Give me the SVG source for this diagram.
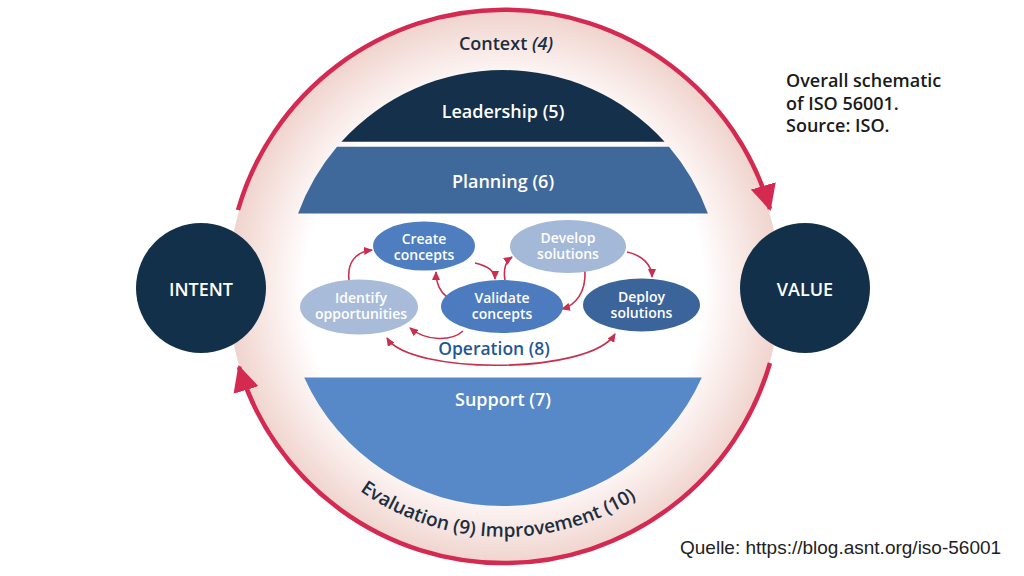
<svg xmlns="http://www.w3.org/2000/svg" width="1024" height="576" viewBox="0 0 1024 576">
  <defs>
    <radialGradient id="ringGrad" gradientUnits="userSpaceOnUse" cx="504" cy="288" r="277">
      <stop offset="0" stop-color="#ffffff"/>
      <stop offset="0.72" stop-color="#ffffff"/>
      <stop offset="0.86" stop-color="#f8e9e6"/>
      <stop offset="1" stop-color="#f0d3cd"/>
    </radialGradient>
    <marker id="bigArrow" markerUnits="userSpaceOnUse" markerWidth="26" markerHeight="26" viewBox="0 0 26 26" refX="24" refY="13" orient="auto">
      <path d="M0,0 L26,13 L0,26 z" fill="#d42a52"/>
    </marker>
    <marker id="smallArrow" markerUnits="userSpaceOnUse" markerWidth="9" markerHeight="8" viewBox="0 0 9 8" refX="8" refY="4" orient="auto-start-reverse">
      <path d="M0,0 L9,4 L0,8 z" fill="#c8304f"/>
    </marker>
    <path id="bottomTextPath" d="M258.8,331.2 A249,249 0 0 0 749.2,331.2"/>
    <style>
      .lbl { font-family: "Open Sans", "Liberation Sans", sans-serif; font-weight: 600; text-anchor: middle; }
      .white { fill: #ffffff; }
      .dark { fill: #1d2e3f; }
      .ell { font-size: 14px; }
      .band { font-size: 18px; }
      .bigArc { fill: none; stroke: #d42a52; stroke-width: 4.5; }
      .smallArc { fill: none; stroke: #c8304f; stroke-width: 1.6; marker-end: url(#smallArrow); }
    </style>
  </defs>

  <rect width="1024" height="576" fill="#ffffff"/>

  <!-- outer ring -->
  <g id="ring">
    <circle cx="504" cy="288" r="276" fill="url(#ringGrad)"/>
  </g>

  <!-- connectors -->
  <g id="connectors">
    <path class="bigArc" d="M238,210 A277,277 0 0 1 770,209" marker-end="url(#bigArrow)"/>
    <path class="bigArc" d="M770,363 A277,277 0 0 1 239,367" marker-end="url(#bigArrow)"/>

    <!-- operation arrows -->
    <path class="smallArc" d="M349,280 C347,263 355,252 372,250"/>
    <path class="smallArc" d="M475,263 C488,266 495,272 495,279"/>
    <path class="smallArc" d="M447,297 C439,291 436,283 436,272"/>
    <path class="smallArc" d="M505,280 C503,268 506,261 512,257"/>
    <path class="smallArc" d="M585,271 C586,292 576,305 562,309"/>
    <path class="smallArc" d="M627,252 C642,255 652,265 652,277"/>
    <path class="smallArc" d="M463,331 C452,341 427,342 410,328"/>
    <path class="smallArc" d="M387,338 C410,375 590,375 615,334" marker-start="url(#smallArrow)"/>
  </g>

  <!-- context label -->
  <g id="context">
    <text class="lbl dark band" x="506" y="50">Context <tspan font-style="italic">(4)</tspan></text>
  </g>

  <g id="leadership">
    <path d="M341.4,141.7 A218,218 0 0 1 664.6,141.7 Z" fill="#14304a"/>
    <text class="lbl white band" x="503" y="118">Leadership (5)</text>
  </g>

  <g id="planning">
    <path d="M337,146.7 L669,146.7 A218,218 0 0 1 707.9,213.5 L298.1,213.5 A218,218 0 0 1 337,146.7 Z" fill="#40699b"/>
    <text class="lbl white band" x="503" y="188">Planning (6)</text>
  </g>

  <g id="support">
    <path d="M304.2,377.5 L701.8,377.5 A218,218 0 0 1 304.2,377.5 Z" fill="#5788c8"/>
    <text class="lbl white band" x="503" y="406">Support (7)</text>
  </g>

  <g id="operation">
    <text class="lbl" x="494" y="355" font-size="17.5" font-weight="700" fill="#1f5896">Operation (8)</text>
  </g>

  <g id="create-concepts">
    <ellipse cx="424" cy="246" rx="51" ry="24.5" fill="#4e7ec0"/>
    <text class="lbl white ell" x="424" y="244">Create<tspan x="424" dy="16">concepts</tspan></text>
  </g>

  <g id="develop-solutions">
    <ellipse cx="568" cy="246.5" rx="58" ry="26.5" fill="#a4b9d7"/>
    <text class="lbl white ell" x="568" y="243">Develop<tspan x="568" dy="16">solutions</tspan></text>
  </g>

  <g id="identify-opportunities">
    <ellipse cx="359" cy="307" rx="59" ry="27.5" fill="#a8bcda"/>
    <text class="lbl white ell" x="361" y="303">Identify<tspan x="361" dy="16">opportunities</tspan></text>
  </g>

  <g id="validate-concepts">
    <ellipse cx="502" cy="306.5" rx="61" ry="26.5" fill="#4c7cbf"/>
    <text class="lbl white ell" x="502" y="303">Validate<tspan x="502" dy="16">concepts</tspan></text>
  </g>

  <g id="deploy-solutions">
    <ellipse cx="641.5" cy="305" rx="58.5" ry="26.5" fill="#3b649b"/>
    <text class="lbl white ell" x="641.5" y="302">Deploy<tspan x="641.5" dy="16">solutions</tspan></text>
  </g>

  <g id="evaluation-improvement">
    <text class="lbl dark" font-size="19"><textPath href="#bottomTextPath" startOffset="49%">Evaluation (9) Improvement (10)</textPath></text>
  </g>

  <g id="intent">
    <circle cx="201" cy="288" r="65" fill="#13304a"/>
    <text class="lbl white" x="201" y="296" font-size="18">INTENT</text>
  </g>

  <g id="value">
    <circle cx="805" cy="288" r="65" fill="#13304a"/>
    <text class="lbl white" x="805" y="296" font-size="18">VALUE</text>
  </g>

  <g id="caption">
    <text font-family="Open Sans, Liberation Sans, sans-serif" font-weight="600" font-size="18" fill="#1a1a1a">
      <tspan x="786" y="87">Overall schematic</tspan>
      <tspan x="786" y="110">of ISO 56001.</tspan>
      <tspan x="786" y="132">Source: ISO.</tspan>
    </text>
  </g>

  <g id="source">
    <text x="680" y="554" font-family="Liberation Sans, Arial, sans-serif" font-size="19" fill="#222222">Quelle: https://blog.asnt.org/iso-56001</text>
  </g>
</svg>
